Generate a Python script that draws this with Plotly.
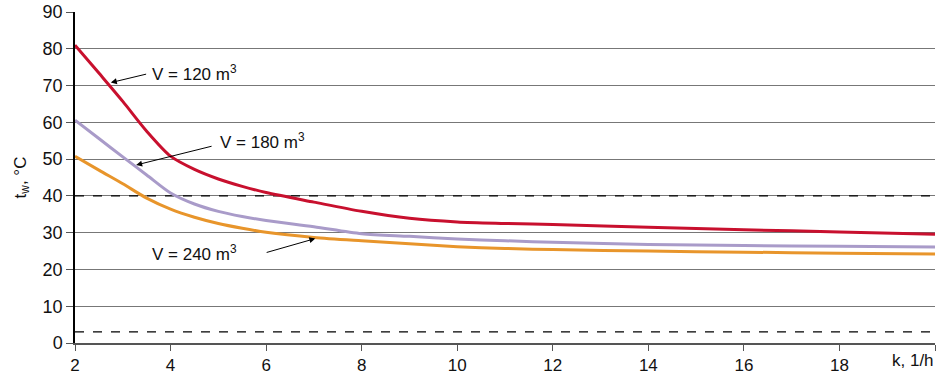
import plotly.graph_objects as go

# ---- data ----
k_values = [2, 2.5, 3, 3.5, 4, 4.5, 5, 5.5, 6, 7, 8, 9, 10, 11, 12, 14, 16, 18, 20]
t_v120 = [81, 73.4, 65.7, 57.6, 50.8, 47.2, 44.6, 42.6, 40.9, 38.3, 35.8, 33.9, 32.9, 32.5, 32.2, 31.5, 30.8, 30.2, 29.6]
t_v180 = [60.6, 55.6, 50.6, 45.7, 40.8, 37.8, 35.8, 34.4, 33.3, 31.6, 29.7, 29.0, 28.3, 27.8, 27.4, 26.8, 26.5, 26.3, 26.1]
t_v240 = [50.8, 47.0, 43.3, 39.4, 36.4, 34.2, 32.5, 31.2, 30.1, 28.7, 27.8, 27.0, 26.2, 25.7, 25.4, 25.0, 24.7, 24.4, 24.2]
limit_lines = [40, 3]
x_ticks = [2, 4, 6, 8, 10, 12, 14, 16, 18, 20]
x_ticktext = ["2", "4", "6", "8", "10", "12", "14", "16", "18", ""]
y_ticks = [0, 10, 20, 30, 40, 50, 60, 70, 80, 90]

FONT = "Liberation Sans, Arial, sans-serif"

fig = go.Figure()

for yv in limit_lines:
    fig.add_trace(go.Scatter(x=[k_values[0], k_values[-1]], y=[yv, yv], mode="lines",
                             line=dict(color="black", width=1.3, dash="dash"),
                             showlegend=False, hoverinfo="skip"))

series = [(t_v120, "#C8102E"), (t_v180, "#A99BC9"), (t_v240, "#E8952B")]
for ys, col in series:
    fig.add_trace(go.Scatter(x=k_values, y=ys, mode="lines",
                             line=dict(color=col, width=3, shape="spline", smoothing=0.8),
                             showlegend=False))

arrows = [
    dict(x=2.75, y=70.8, ax=3.52, ay=73.2),
    dict(x=3.28, y=48.4, ax=4.89, ay=53.6),
    dict(x=7.03, y=28.4, ax=5.98, ay=24.5),
]
for a in arrows:
    fig.add_annotation(x=a["x"], y=a["y"], ax=a["ax"], ay=a["ay"], xref="x", yref="y",
                       axref="x", ayref="y", text="", showarrow=True, arrowhead=2,
                       arrowsize=1.2, arrowwidth=1, arrowcolor="black", standoff=0)

labels = [
    ("V = 120 m<sup>3</sup>", 3.57, 73.5),
    ("V = 180 m<sup>3</sup>", 4.99, 55.0),
    ("V = 240 m<sup>3</sup>", 3.57, 24.5),
]
for txt, x, y in labels:
    fig.add_annotation(x=x, y=y, xref="x", yref="y", text=txt, showarrow=False,
                       xanchor="left", yanchor="middle",
                       font=dict(family=FONT, size=17, color="#111"))

fig.add_annotation(x=1, y=0, xref="paper", yref="paper", text="k, 1/h", showarrow=False,
                   xanchor="right", yanchor="top", yshift=-6, xshift=1,
                   font=dict(family=FONT, size=17, color="#111"))

fig.update_layout(
    width=938, height=380,
    margin=dict(l=75, r=3, t=12, b=37),
    paper_bgcolor="white", plot_bgcolor="white",
    font=dict(family=FONT, size=18, color="#111"),
    xaxis=dict(range=[2, 20], tickvals=x_ticks, ticktext=x_ticktext, automargin=False,
               showgrid=False, zeroline=False, showline=True, linecolor="#555",
               linewidth=1.5, ticks="outside", ticklen=6, tickcolor="#555",
               tickfont=dict(family=FONT, size=17)),
    yaxis=dict(range=[0, 90], tickvals=y_ticks, showgrid=True, gridcolor="#777777",
               gridwidth=1.3, zeroline=False, showline=True, linecolor="black",
               linewidth=1.5, ticks="outside", ticklen=7, tickcolor="#555",
               automargin=False,
               tickfont=dict(family=FONT, size=18),
               title=dict(text="t<sub>w</sub>, °C", standoff=12,
                          font=dict(family=FONT, size=17))),
)

fig.write_html("out.html", config={"displayModeBar": False},
               post_script="document.body.style.margin='0';document.body.style.overflow='hidden';")
